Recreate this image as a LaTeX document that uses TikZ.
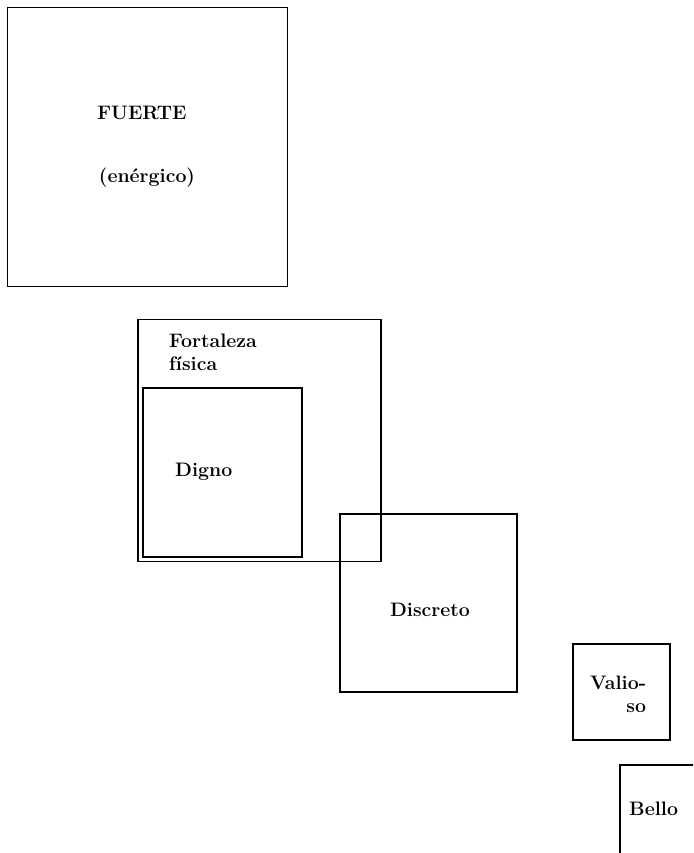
\documentclass[tikz,border=0pt]{standalone}
\usetikzlibrary{positioning}

\begin{document}
\begin{tikzpicture}[
    x=1pt, y=-1pt,
    box/.style={rectangle, draw=black, line width=1.3pt, inner sep=0pt, fill=none},
    word/.style={inner sep=0pt, font=\fontsize{19.5}{23}\selectfont\bfseries},
]
    \clip (0,0) rectangle (693,853);

    \node[box, minimum width=280pt, minimum height=279pt] (fuerte) at (147.5,147) {};
    \node[box, minimum width=243pt, minimum height=242pt] (fortaleza) at (259.5,440.5) {};
    \node[box, minimum width=159pt, minimum height=169pt] (digno) at (222.5,472.5) {};
    \node[box, minimum width=177pt, minimum height=178pt] (discreto) at (428.5,603) {};
    \node[box, minimum width=97pt, minimum height=96pt] (valioso) at (621.5,692) {};
    \node[box, minimum width=100pt, minimum height=100pt] (bello) at (670,815) {};

    \node[word] (tFuerte) at (142,113) {FUERTE};
    \node[word] (tEnergico) at (147,178) {(enérgico)};
    \node[word, anchor=base west, align=left] (tFortaleza) at (169,370) {Fortaleza\\física};
    \node[word, anchor=base west] (tDigno) at (175,476.5) {Digno};
    \node[word] (tDiscreto) at (430,610) {Discreto};
    \node[word, anchor=base west, align=right] (tValioso) at (590,712) {Valio-\\so};
    \node[word, anchor=base west] (tBello) at (629,815) {Bello};
\end{tikzpicture}
\end{document}
